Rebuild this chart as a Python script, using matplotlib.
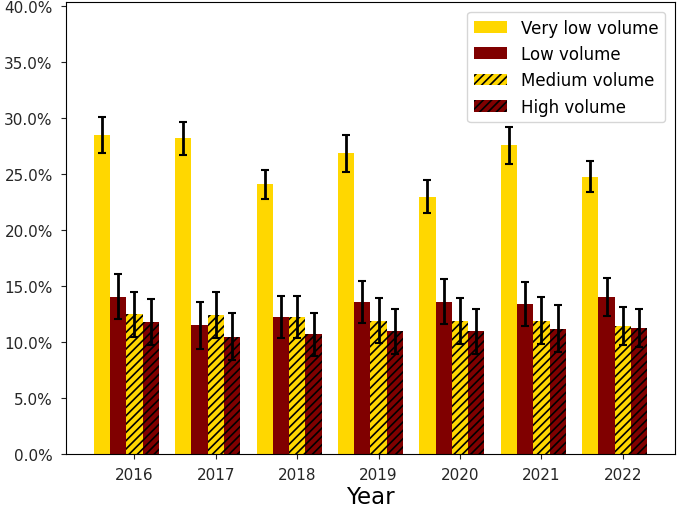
import matplotlib
matplotlib.use("Agg")
import matplotlib.pyplot as plt
import numpy as np
from matplotlib.ticker import PercentFormatter

plt.rcParams["hatch.linewidth"] = 1.2

years = ["2016", "2017", "2018", "2019", "2020", "2021", "2022"]
very_low = [0.2848, 0.2820, 0.2410, 0.2690, 0.2300, 0.2760, 0.2480]
very_low_err = [0.0160, 0.0150, 0.0130, 0.0165, 0.0150, 0.0165, 0.0140]
low = [0.1405, 0.1150, 0.1226, 0.1360, 0.1360, 0.1340, 0.1400]
low_err = [0.0200, 0.0210, 0.0185, 0.0190, 0.0200, 0.0200, 0.0170]
medium = [0.1247, 0.1240, 0.1226, 0.1190, 0.1185, 0.1190, 0.1140]
medium_err = [0.0205, 0.0205, 0.0185, 0.0200, 0.0205, 0.0210, 0.0170]
high = [0.1180, 0.1050, 0.1070, 0.1095, 0.1095, 0.1120, 0.1130]
high_err = [0.0205, 0.0210, 0.0190, 0.0205, 0.0205, 0.0210, 0.0170]

series = [
    ("Very low volume", very_low, very_low_err, "#FFD700", None),
    ("Low volume", low, low_err, "#800000", None),
    ("Medium volume", medium, medium_err, "#FFD700", "////"),
    ("High volume", high, high_err, "#800000", "////"),
]

fig = plt.figure(figsize=(6.78, 5.10), dpi=100)
ax = fig.add_axes([66/678, 1-455/510, (675-66)/678, (455-3)/510])
x = np.arange(len(years))
w = 0.2
offsets = [-2*w, -w, 0, w]
for (label, vals, errs, color, hatch), off in zip(series, offsets):
    ax.bar(x + off, vals, w, yerr=errs, color=color, hatch=hatch, label=label,
           capsize=3, error_kw=dict(elinewidth=2, capthick=1.5, ecolor="black"))

ax.set_xticks(x)
ax.set_xticklabels(years)
ax.set_ylim(0, 0.404)
ax.set_yticks(np.arange(0, 0.401, 0.05))
ax.yaxis.set_major_formatter(PercentFormatter(1.0, decimals=1))
ax.set_xlabel("Year", fontsize=16.5, labelpad=2)
ax.tick_params(labelsize=11, pad=6, colors="#222222", labelcolor="#262626")
ax.legend(loc="upper right", fontsize=12, borderaxespad=0.6)
fig.savefig("out.png", dpi=100)
